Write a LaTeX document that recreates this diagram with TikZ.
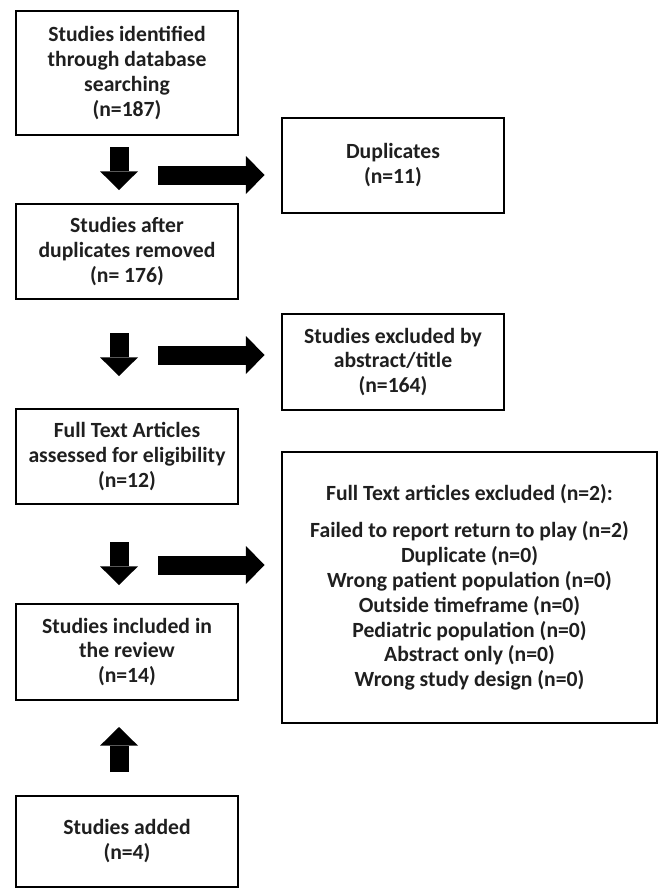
\documentclass[tikz,border=0pt]{standalone}
\usepackage{fontspec}
\setmainfont{Carlito}
\usetikzlibrary{arrows.meta}

\begin{document}
\begin{tikzpicture}
[x=0.03cm,y=-0.03cm,
  boxDecorate/.style={shape=rectangle,draw=black,line width=2.4pt,align=center,
    inner sep=0pt,minimum width=6.66cm,text=black!88,
    font=\bfseries\fontsize{18.5}{21.3}\selectfont},
  arrowDecorate/.style={line width=0.57cm,
    -{Triangle[width=1.14cm,length=0.56cm,line width=0pt]}}]
\useasboundingbox (0,0) rectangle (663,889);
%% boxes of the left column
\node (identified) at (127,73) [boxDecorate,minimum height=3.72cm]
  {Studies identified\\through database\\searching\\(n=187)};
\node (after) at (127,251.5) [boxDecorate,minimum height=2.85cm]
  {Studies after\\duplicates removed\\(n= 176)};
\node (fulltext) at (127,456.5) [boxDecorate,minimum height=2.85cm]
  {Full Text Articles\\assessed for eligibility\\(n=12)};
\node (included) at (127,652) [boxDecorate,minimum height=2.88cm]
  {Studies included in\\the review\\(n=14)};
\node (added) at (127,841.5) [boxDecorate,minimum height=2.73cm]
  {Studies added\\(n=4)};
%% boxes of the right column
\node (duplicates) at (393,165.5) [boxDecorate,minimum height=2.85cm]
  {Duplicates\\(n=11)};
\node (abstract) at (393,362) [boxDecorate,minimum height=2.88cm]
  {Studies excluded by\\abstract/title\\(n=164)};
\node (excluded) at (469.5,587.5) [boxDecorate,minimum width=11.25cm,minimum height=8.13cm]
  {Full Text articles excluded (n=2):\\[10pt]
   Failed to report return to play (n=2)\\
   Duplicate (n=0)\\
   Wrong patient population (n=0)\\
   Outside timeframe (n=0)\\
   Pediatric population (n=0)\\
   Abstract only (n=0)\\
   Wrong study design (n=0)};
%% arrow ends
\foreach \name/\x/\y in {
  d1a/119/147, d1b/119/190, d2a/119/333, d2b/119/376, d3a/119/542, d3b/119/585,
  u1a/119/772, u1b/119/727, r1a/158/175, r2a/158/355, r3a/158/565}
{
  \coordinate (\name) at (\x,\y);
}
%% arrows
\foreach \startnode/\endnode in {d1a/d1b, d2a/d2b, d3a/d3b, u1a/u1b}
{
  \draw[arrowDecorate] (\startnode) -- (\endnode);
}
\foreach \startnode/\endnode in {r1a/duplicates, r2a/abstract, r3a/excluded}
{
  \draw[arrowDecorate,shorten >=0.48cm] (\startnode) -- (\endnode.west |- \startnode);
}
\end{tikzpicture}
\end{document}
